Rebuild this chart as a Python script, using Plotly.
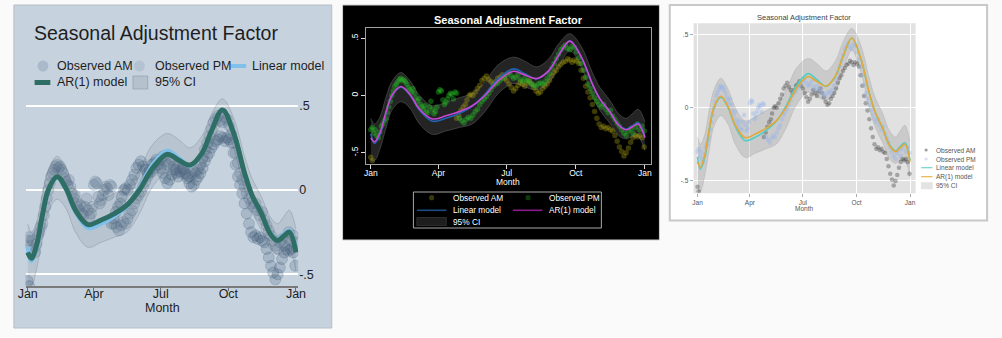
import plotly.graph_objects as go

W, H = 1002, 338

# ---- data -------------------------------------------------------------
month_ticks = [0, 90, 181, 273, 365]
month_labels = ["Jan", "Apr", "Jul", "Oct", "Jan"]
y_ticks = [-0.5, 0, 0.5]
y_labels = ["-.5", "0", ".5"]

# morning readings (day of year, adjustment factor)
am_day = [0, 2, 114, 117, 120, 123, 126, 128, 131, 133, 136, 139, 142, 145, 148, 151,
          154, 157, 160, 163, 166, 169, 172, 175, 178, 181, 184, 187, 190, 193, 196,
          199, 202, 205, 208, 211, 214, 217, 220, 223, 226, 229, 232, 235, 238, 241,
          244, 247, 250, 253, 256, 259, 262, 265, 268, 271, 274, 277, 280, 283, 286,
          289, 292, 295, 298, 301, 304, 307, 310, 313, 316, 319, 322, 325, 328, 331,
          334, 337, 340, 343, 346, 349, 352, 355, 358, 361, 364]
am_val = [-0.54, -0.57, -0.2, -0.17, -0.13, -0.1, -0.08, -0.04, 0.0, 0.01, 0.0, 0.03,
          0.06, 0.09, 0.13, 0.15, 0.17, 0.14, 0.12, 0.1, 0.12, 0.15, 0.16, 0.18, 0.15,
          0.13, 0.1, 0.07, 0.04, 0.06, 0.09, 0.12, 0.1, 0.08, 0.11, 0.13, 0.1, 0.07,
          0.04, 0.02, 0.03, 0.06, 0.08, 0.1, 0.13, 0.17, 0.2, 0.22, 0.25, 0.27, 0.29,
          0.3, 0.32, 0.31, 0.29, 0.31, 0.3, 0.28, 0.22, 0.15, 0.08, 0.03, -0.02, -0.08,
          -0.14, -0.2, -0.25, -0.28, -0.27, -0.29, -0.28, -0.3, -0.31, -0.35, -0.4,
          -0.45, -0.49, -0.53, -0.5, -0.46, -0.41, -0.37, -0.35, -0.36, -0.35, -0.37,
          -0.45]

# evening readings
pm_day = [0, 2, 4, 6, 8, 10, 12, 14, 16, 18, 20, 22, 24, 26, 28, 30, 32, 34, 36, 38,
          40, 42, 44, 46, 48, 50, 52, 54, 56, 58, 60, 62, 64, 66, 68, 70, 72, 74, 76,
          78, 80, 82, 84, 86, 88, 90, 92, 94, 96, 98, 100, 102, 104, 106, 108, 110,
          112, 114, 118, 121, 124, 127, 130, 133, 136, 139, 142, 145, 148, 151, 154,
          157, 160, 163, 166, 169, 172, 175, 178, 181, 184, 187, 190, 193, 196, 199,
          202, 205, 208, 211, 214, 217, 220, 223, 226, 229, 232, 235, 238, 241, 244,
          247, 250, 253, 256, 259, 262, 265, 268, 271, 274, 277, 280, 283, 286, 289,
          292, 295, 298, 301, 304, 307, 310, 313, 316, 319, 322, 325, 328, 331, 334,
          337, 340, 343, 346, 349, 352, 355, 358, 361, 364]
pm_val = [-0.3, -0.28, -0.33, -0.3, -0.35, -0.37, -0.32, -0.27, -0.25, -0.22, -0.2,
          -0.15, -0.1, -0.05, 0.0, 0.04, 0.08, 0.1, 0.12, 0.14, 0.15, 0.13, 0.14, 0.12,
          0.1, 0.07, 0.05, 0.03, 0.06, 0.02, -0.02, -0.05, -0.03, -0.08, -0.1, -0.12,
          -0.09, -0.14, -0.15, -0.1, -0.05, -0.12, -0.16, -0.14, -0.1, 0.03, 0.05, 0.04,
          -0.04, -0.08, -0.06, -0.03, 0.0, 0.02, 0.01, -0.03, 0.03, 0.02, -0.2, -0.22,
          -0.24, -0.21, -0.19, -0.2, -0.17, -0.14, -0.12, -0.08, -0.05, -0.03, -0.01,
          0.02, 0.05, 0.08, 0.1, 0.11, 0.13, 0.15, 0.17, 0.18, 0.2, 0.17, 0.15, 0.16,
          0.18, 0.14, 0.12, 0.15, 0.13, 0.12, 0.1, 0.09, 0.08, 0.1, 0.11, 0.1, 0.12,
          0.15, 0.19, 0.24, 0.28, 0.32, 0.36, 0.4, 0.42, 0.44, 0.41, 0.4, 0.43, 0.42,
          0.38, 0.33, 0.28, 0.22, 0.16, 0.1, 0.06, 0.02, -0.02, -0.05, -0.08, -0.1,
          -0.08, -0.12, -0.15, -0.13, -0.18, -0.21, -0.24, -0.27, -0.3, -0.33, -0.35,
          -0.31, -0.29, -0.33, -0.28, -0.25, -0.3, -0.27, -0.31]

# fitted models and 95% band, evaluated at knot days
knot_day = [0, 5, 12, 20, 28, 40, 52, 65, 82, 100, 118, 135, 152, 170, 190, 205, 221,
            237, 250, 265, 280, 295, 305, 318, 330, 340, 348, 356, 365]
linear_fit = [-0.335, -0.42, -0.345, -0.16, -0.005, 0.072, 0.005, -0.13, -0.225, -0.2,
              -0.155, -0.095, 0.01, 0.15, 0.232, 0.19, 0.145, 0.215, 0.35, 0.475, 0.34,
              0.1, -0.03, -0.14, -0.255, -0.295, -0.265, -0.24, -0.36]
ar1_fit = [-0.37, -0.405, -0.33, -0.15, 0.0, 0.078, 0.01, -0.12, -0.205, -0.178, -0.14,
           -0.09, 0.0, 0.13, 0.212, 0.178, 0.148, 0.217, 0.35, 0.475, 0.34, 0.1, -0.03,
           -0.14, -0.26, -0.3, -0.275, -0.25, -0.37]
ci_low = [-0.57, -0.57, -0.47, -0.29, -0.13, -0.055, -0.11, -0.25, -0.34, -0.31, -0.28,
          -0.25, -0.14, 0.02, 0.105, 0.075, 0.05, 0.11, 0.25, 0.39, 0.25, 0.0, -0.13,
          -0.24, -0.35, -0.38, -0.36, -0.36, -0.48]
ci_high = [-0.2, -0.25, -0.19, -0.02, 0.12, 0.2, 0.13, 0.0, -0.09, -0.06, -0.02, 0.02,
           0.12, 0.27, 0.335, 0.3, 0.25, 0.32, 0.45, 0.54, 0.43, 0.2, 0.07, -0.04, -0.16,
           -0.2, -0.16, -0.12, -0.23]

# ---- helpers ----------------------------------------------------------
SANS = "Liberation Sans, Arial, sans-serif"


def fx(x):
    return x / W


def fy(y):
    return 1 - y / H


fig = go.Figure()
shapes = []
annotations = []


def text(x, y, s, size, color, family=SANS, anchor="left"):
    annotations.append(dict(x=fx(x), y=fy(y), xref="paper", yref="paper", text=s,
                            showarrow=False, xanchor=anchor, yanchor="middle",
                            borderpad=0,
                            font=dict(size=size, color=color, family=family)))


def key_dot(cx, cy, r, fill, line="rgba(0,0,0,0)"):
    shapes.append(dict(type="circle", xref="paper", yref="paper",
                       x0=fx(cx - r), x1=fx(cx + r), y0=fy(cy + r), y1=fy(cy - r),
                       fillcolor=fill, line=dict(color=line, width=1)))


def key_line(x0, x1, y, color, width):
    shapes.append(dict(type="line", xref="paper", yref="paper",
                       x0=fx(x0), x1=fx(x1), y0=fy(y), y1=fy(y),
                       line=dict(color=color, width=width)))


def key_rect(x0, y0, x1, y1, fill, line, width=1):
    shapes.append(dict(type="rect", xref="paper", yref="paper",
                       x0=fx(x0), x1=fx(x1), y0=fy(y1), y1=fy(y0),
                       fillcolor=fill, line=dict(color=line, width=width)))


def add_series(n, st):
    xa, ya = ("x", "y") if n == 1 else (f"x{n}", f"y{n}")
    fig.add_trace(go.Scatter(x=knot_day, y=ci_low, xaxis=xa, yaxis=ya, mode="lines",
                             line=dict(color=st["ci_line"], width=st["ci_w"],
                                       shape="spline"),
                             hoverinfo="skip", showlegend=False))
    fig.add_trace(go.Scatter(x=knot_day, y=ci_high, xaxis=xa, yaxis=ya, mode="lines",
                             fill="tonexty", fillcolor=st["ci_fill"],
                             line=dict(color=st["ci_line"], width=st["ci_w"],
                                       shape="spline"),
                             name="95% CI", showlegend=False))
    fig.add_trace(go.Scatter(x=am_day, y=am_val, xaxis=xa, yaxis=ya, mode="markers",
                             marker=dict(size=st["ms"], color=st["am"],
                                         line=dict(width=st["mlw"], color=st["am_edge"])),
                             name="Observed AM", showlegend=False))
    fig.add_trace(go.Scatter(x=pm_day, y=pm_val, xaxis=xa, yaxis=ya, mode="markers",
                             marker=dict(size=st["ms"], color=st["pm"],
                                         line=dict(width=st["mlw"], color=st["pm_edge"])),
                             name="Observed PM", showlegend=False))
    fig.add_trace(go.Scatter(x=knot_day, y=linear_fit, xaxis=xa, yaxis=ya, mode="lines",
                             line=dict(color=st["lin"], width=st["lin_w"], shape="spline"),
                             name="Linear model", showlegend=False))
    fig.add_trace(go.Scatter(x=knot_day, y=ar1_fit, xaxis=xa, yaxis=ya, mode="lines",
                             line=dict(color=st["ar"], width=st["ar_w"], shape="spline"),
                             name="AR(1) model", showlegend=False))


# ---- panel 1: bluish-gray style ---------------------------------------
shapes.append(dict(type="rect", xref="paper", yref="paper", layer="below",
                   x0=fx(6), x1=fx(329), y0=fy(328), y1=fy(5),
                   fillcolor="#c6d3df", line=dict(color="#b4bec8", width=1)))
add_series(1, dict(ci_fill="rgba(120,132,145,0.17)", ci_line="rgba(120,130,140,0.35)",
                   ci_w=1, ms=11, mlw=1,
                   am="rgba(62,90,118,0.22)", am_edge="rgba(62,90,118,0.24)",
                   pm="rgba(80,104,132,0.2)", pm_edge="rgba(80,104,132,0.22)",
                   lin="#80c1ec", lin_w=4.5, ar="#2f6e64", ar_w=5))
text(25, 33, "Seasonal Adjustment Factor", 19.5, "#1e1e1e")
key_dot(35.5, 66, 5.5, "rgba(120,140,162,0.35)")
text(49, 66, "Observed AM", 12.5, "#1e1e1e")
key_dot(133.5, 66, 5.5, "rgba(140,158,178,0.3)")
text(148, 66, "Observed PM", 12.5, "#1e1e1e")
key_line(226, 242, 66, "#80c1ec", 4)
text(247, 66, "Linear model", 12.5, "#1e1e1e")
key_line(27, 43, 82.5, "#2f6e64", 5)
text(49, 82.5, "AR(1) model", 12.5, "#1e1e1e")
key_rect(127, 76, 142, 89, "rgba(150,162,175,0.35)", "rgba(140,150,160,0.6)")
text(148, 82.5, "95% CI", 12.5, "#1e1e1e")
text(156.5, 307.5, "Month", 12.5, "#1e1e1e", anchor="center")

# ---- panel 2: black style ---------------------------------------------
shapes.append(dict(type="rect", xref="paper", yref="paper", layer="below",
                   x0=fx(340), x1=fx(662), y0=fy(240), y1=fy(5),
                   fillcolor="#000000", line=dict(color="#cfcfcf", width=1)))
add_series(2, dict(ci_fill="rgba(85,85,85,0.42)", ci_line="rgba(95,95,95,0.7)",
                   ci_w=0.8, ms=5.5, mlw=0,
                   am="rgba(170,160,20,0.36)", am_edge="rgba(0,0,0,0)",
                   pm="rgba(40,190,40,0.4)", pm_edge="rgba(0,0,0,0)",
                   lin="#2062b0", lin_w=1.6, ar="#c846d2", ar_w=1.6))
text(508.5, 20, "<b>Seasonal Adjustment Factor</b>", 11, "#ffffff", SANS, "center")
text(508.5, 182, "Month", 8.5, "#ffffff", SANS, "center")
key_rect(412, 192, 603, 228, "#000000", "#a8a8a8", 1)
key_dot(430.5, 197.7, 2.6, "#3a3808")
text(451, 197.7, "Observed AM", 8.3, "#ffffff")
key_dot(528.5, 197.7, 2.6, "#0c3a0c")
text(549, 197.7, "Observed PM", 8.3, "#ffffff")
key_line(415.5, 445.5, 210.3, "#1a4c86", 1.6)
text(451, 210.3, "Linear model", 8.3, "#ffffff")
key_line(513, 543, 210.3, "#8a1a8e", 1.6)
text(549, 210.3, "AR(1) model", 8.3, "#ffffff")
key_rect(415.5, 217.5, 445.5, 225.5, "#1e1e1e", "#2c2c2c", 1)
text(451, 221.6, "95% CI", 8.3, "#ffffff")

# ---- panel 3: light gray style ----------------------------------------
shapes.append(dict(type="rect", xref="paper", yref="paper", layer="below",
                   x0=fx(672.5), x1=fx(995), y0=fy(220.5), y1=fy(5),
                   fillcolor="#ffffff", line=dict(color="#c8c8c8", width=2)))
shapes.append(dict(type="rect", xref="x3 domain", yref="y3 domain", layer="below",
                   x0=0, x1=1, y0=0, y1=1, fillcolor="#e1e1e1", line=dict(width=0)))
add_series(3, dict(ci_fill="rgba(150,150,150,0.3)", ci_line="rgba(150,150,150,0.45)",
                   ci_w=0.6, ms=4.5, mlw=0,
                   am="rgba(70,70,70,0.4)", am_edge="rgba(0,0,0,0)",
                   pm="rgba(150,180,235,0.4)", pm_edge="rgba(0,0,0,0)",
                   lin="#52cdc6", lin_w=1.6, ar="#e2a838", ar_w=1.6))
text(809, 17.3, "Seasonal Adjustment Factor", 7.5, "#444444", SANS, "center")
text(808.7, 208.5, "Month", 6.5, "#555555", SANS, "center")
key_dot(933, 150, 1.6, "#a0a0a0")
text(942.5, 150, "Observed AM", 6.5, "#555555")
key_dot(933, 159, 1.6, "#d8e0f2")
text(942.5, 159, "Observed PM", 6.5, "#555555")
key_line(928, 939.5, 167.7, "#6fd6cf", 1.2)
text(942.5, 167.7, "Linear model", 6.5, "#555555")
key_line(928, 939.5, 176.7, "#e8b446", 1.2)
text(942.5, 176.7, "AR(1) model", 6.5, "#555555")
key_rect(928, 182.5, 939.5, 189, "#e3e3e3", "#e3e3e3", 0.5)
text(942.5, 185.7, "95% CI", 6.5, "#555555")

# ---- axes ---------------------------------------------------------------
fig.update_layout(
    width=W, height=H, margin=dict(l=0, r=0, t=0, b=0),
    paper_bgcolor="#fafafa", plot_bgcolor="rgba(0,0,0,0)",
    showlegend=False, shapes=shapes, annotations=annotations,
    xaxis=dict(domain=[fx(17.8), fx(294.9)], range=[-3, 368], anchor="y",
               tickvals=month_ticks, ticktext=month_labels, ticks="outside", ticklen=4,
               tickwidth=1.3, tickcolor="#6e6e6e", showline=True, linecolor="#7a7a7a",
               linewidth=1.5, showgrid=False, zeroline=False, ticklabelstandoff=-8,
               tickfont=dict(size=12.5, color="#1e1e1e", family=SANS)),
    yaxis=dict(domain=[fy(285.7), fy(88.8)], range=[-0.5676, 0.6], anchor="x",
               side="right", tickvals=y_ticks, ticktext=y_labels, ticks="",
               showgrid=True, gridcolor="#ffffff", gridwidth=1.5, zeroline=False,
               showline=False, tickfont=dict(size=12.5, color="#1e1e1e", family=SANS)),
    xaxis2=dict(domain=[fx(363.7), fx(653)], range=[-6.55, 372.5], anchor="y2",
                tickvals=month_ticks, ticktext=month_labels, ticks="outside", ticklen=4,
                tickcolor="#dddddd", showline=True, mirror=True, linecolor="#a0a0a0",
                linewidth=1, showgrid=False, zeroline=False, ticklabelstandoff=-3,
                tickfont=dict(size=8.5, color="#ffffff", family=SANS)),
    yaxis2=dict(domain=[fy(164), fy(28.3)], range=[-0.599, 0.587], anchor="x2",
                tickvals=y_ticks, ticktext=y_labels, tickangle=-90, ticks="outside",
                ticklen=4, tickcolor="#dddddd", showline=True, mirror=True,
                linecolor="#a0a0a0", linewidth=1, showgrid=False, zeroline=False,
                tickfont=dict(size=8.5, color="#ffffff", family=SANS)),
    xaxis3=dict(domain=[fx(696.7), fx(922.3)], range=[-6.8, 374.5], anchor="y3",
                tickvals=month_ticks, ticktext=month_labels, ticks="outside", ticklen=3,
                tickcolor="#aaaaaa", showline=False, showgrid=True, gridcolor="#ffffff",
                gridwidth=1, zeroline=False,
                tickfont=dict(size=6.5, color="#555555", family=SANS)),
    yaxis3=dict(domain=[fy(193.3), fy(23.3)], range=[-0.584, 0.575], anchor="x3",
                tickvals=y_ticks, ticktext=y_labels, ticks="outside", ticklen=3,
                tickcolor="#aaaaaa", showline=False, showgrid=True, gridcolor="#ffffff",
                gridwidth=1, zeroline=False,
                tickfont=dict(size=6.5, color="#555555", family=SANS)),
)

fig.write_html("out.html")
